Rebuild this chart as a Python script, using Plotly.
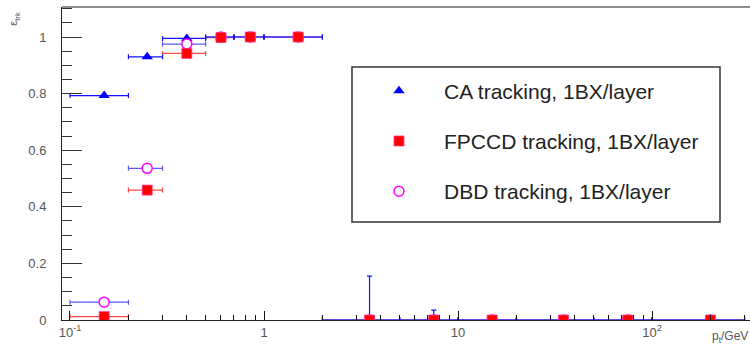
import plotly.graph_objects as go

# pT bins (GeV): centres and edges
pt = [0.15, 0.25, 0.4, 0.6, 0.85, 1.5, 3.5, 7.5, 15, 35, 75, 200]
pt_lo = [0.1, 0.2, 0.3, 0.5, 0.7, 1.0, 2, 5, 10, 20, 50, 100]
pt_hi = [0.2, 0.3, 0.5, 0.7, 1.0, 2.0, 5, 10, 20, 50, 100, 300]

# tracking efficiencies
eff_ca = [0.793, 0.930, 0.995, 1.0, 1.0, 1.0, 0, 0, 0, 0, 0, 0]
eff_ca_err_up = [0, 0, 0, 0, 0, 0, 0.155, 0.035, 0, 0, 0, 0]
eff_fpccd = [0.012, 0.459, 0.942, 0.998, 1.0, 1.0, 0, 0, 0, 0, 0, 0]
eff_dbd = [0.063, 0.536, 0.975, 1.0, 1.0, 1.0, 0, 0, 0, 0, 0, 0]

names = ["CA tracking, 1BX/layer", "FPCCD tracking, 1BX/layer", "DBD tracking, 1BX/layer"]

x_minus = [c - lo for c, lo in zip(pt, pt_lo)]
x_plus = [hi - c for c, hi in zip(pt, pt_hi)]
zeros = [0] * len(pt)

fig = go.Figure()


def bars(y, color, up=None):
    fig.add_trace(go.Scatter(
        x=pt, y=y, mode="markers",
        marker=dict(size=1, color="rgba(0,0,0,0)"),
        error_x=dict(type="data", symmetric=False, array=x_plus, arrayminus=x_minus,
                     color=color, thickness=1.2, width=2.5),
        error_y=dict(type="data", symmetric=False, array=up if up else zeros,
                     arrayminus=zeros, color=color, thickness=1.2, width=2.5),
        showlegend=False, hoverinfo="skip"))


# error bars first, markers on top
bars(eff_fpccd, "#ff4a4a")
bars(eff_dbd, "#5a5aff")
bars(eff_ca, "#1010ff", eff_ca_err_up)

fig.add_trace(go.Scatter(
    x=pt, y=eff_ca, mode="markers", name=names[0], legendrank=1, legendgroup="a",
    marker=dict(symbol="triangle-up", size=10, color="#0000ff", line=dict(width=0))))
fig.add_trace(go.Scatter(
    x=pt, y=eff_dbd, mode="markers", name=names[2], legendrank=3, legendgroup="c",
    marker=dict(symbol="circle", size=10, color="white", line=dict(width=1.5, color="#ff00ff"))))
fig.add_trace(go.Scatter(
    x=pt, y=eff_fpccd, mode="markers", name=names[1], legendrank=2, legendgroup="b",
    marker=dict(symbol="square", size=10, color="#ff0000", line=dict(width=0.8, color="#ff3c8c"))))

minor_x = [m * 10 ** e for e in (-1, 0, 1, 2) for m in range(2, 10)]

fig.update_xaxes(
    type="log", range=[-1.0412, 2.505],
    showline=True, linecolor="#222", linewidth=1, mirror=False,
    showgrid=False, zeroline=False,
    ticks="inside", ticklen=9, tickcolor="#111", tickwidth=1.2,
    tickmode="array", tickvals=[0.1, 1, 10, 100],
    ticktext=["10<sup>-1</sup>", "1", "10", "10<sup>2</sup>"],
    tickfont=dict(family="Liberation Sans", size=13, color="#555"),
    minor=dict(ticks="inside", ticklen=5, tickcolor="#111", tickwidth=1,
               tickmode="array", tickvals=minor_x, showgrid=False),
)
fig.update_yaxes(
    range=[0, 1.106],
    showline=True, linecolor="#222", linewidth=1, mirror=False,
    showgrid=False, zeroline=False,
    ticks="inside", ticklen=20, tickcolor="#333", tickwidth=1.2,
    tickmode="array", tickvals=[0, 0.2, 0.4, 0.6, 0.8, 1.0],
    ticktext=["0", "0.2", "0.4", "0.6", "0.8", "1"],
    tickfont=dict(family="Liberation Sans", size=13, color="#555"),
    ticklabelstandoff=12,
    minor=dict(ticks="inside", ticklen=10, tickcolor="#333", tickwidth=1,
               dtick=0.05, showgrid=False),
)

# top frame line and legend box
fig.add_shape(type="line", xref="paper", yref="paper", x0=0, x1=1, y0=1, y1=1,
              line=dict(color="#222", width=1))
fig.add_shape(type="rect", xref="paper", yref="paper",
              x0=0.4215, x1=0.9564, y0=0.313, y1=0.808,
              line=dict(color="#333", width=1.5), fillcolor="white", layer="below")

fig.add_annotation(xref="paper", yref="paper", x=-0.082, y=0.99, yanchor="top",
                   text="ε<sub>trk</sub>", showarrow=False, textangle=-90,
                   font=dict(family="Liberation Sans", size=11, color="#555"))
fig.add_annotation(xref="paper", yref="paper", x=1.0, y=-0.085, xanchor="right",
                   text="p<sub>t</sub>/GeV", showarrow=False,
                   font=dict(family="Liberation Sans", size=12, color="#555"))

fig.update_layout(
    width=750, height=345,
    margin=dict(l=62, r=0, t=7, b=25),
    plot_bgcolor="white", paper_bgcolor="white",
    legend=dict(x=0.4244, y=0.797, xanchor="left", yanchor="top",
                bgcolor="rgba(0,0,0,0)", borderwidth=0,
                font=dict(family="Liberation Sans", size=21, color="#222"),
                itemwidth=80, tracegroupgap=20),
)

fig.write_html("out.html")
